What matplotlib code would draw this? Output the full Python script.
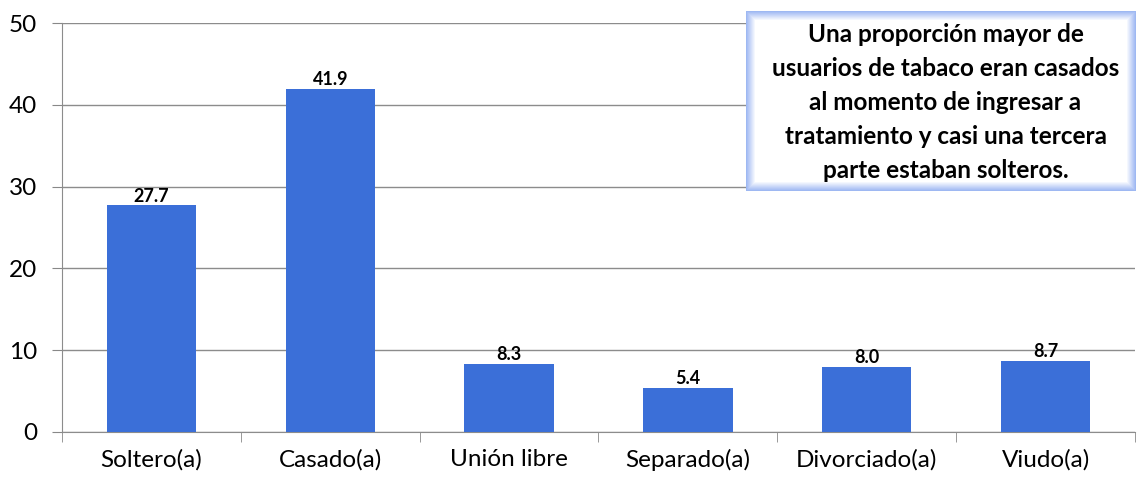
import numpy as np
import matplotlib.pyplot as plt
from matplotlib.patches import Rectangle

categorias = ['Soltero(a)', 'Casado(a)', 'Unión libre', 'Separado(a)', 'Divorciado(a)', 'Viudo(a)']
valores = [27.7, 41.9, 8.3, 5.4, 8.0, 8.7]
nota = ("Una proporción mayor de\nusuarios de tabaco eran casados\nal momento de ingresar a\n"
        "tratamiento y casi una tercera\nparte estaban solteros.")

plt.rcParams['font.family'] = ['Lato', 'DejaVu Sans']

fig = plt.figure(figsize=(11.39, 4.79), dpi=100)
ax = fig.add_axes([62/1139, 47/479, 1073/1139, 409/479])

x = np.arange(len(categorias))
ax.bar(x, valores, width=0.5, color='#3b6fd8', zorder=3)
for xi, v in zip(x, valores):
    ax.text(xi, v + 0.1, f'{v:.1f}', ha='center', va='bottom', fontsize=13, fontweight='bold')

ax.set_xlim(-0.5, len(categorias) - 0.5)
ax.set_ylim(0, 50)
ax.set_yticks(range(0, 51, 10))
ax.set_xticks(x)
ax.set_xticklabels(categorias, fontsize=17.5)
ax.set_xticks(np.arange(-0.5, len(categorias)), minor=True)
ax.tick_params(axis='x', which='major', length=0, pad=12)
ax.tick_params(axis='x', which='minor', length=7, color='#888888')
ax.tick_params(axis='y', length=7, color='#888888', labelsize=17.5, pad=11)
ax.grid(axis='y', color='#8c8c8c', linewidth=1, zorder=0)
for s in ['top', 'right']:
    ax.spines[s].set_visible(False)
for s in ['left', 'bottom']:
    ax.spines[s].set_color('#8c8c8c')

# cuadro de texto con borde azul difuminado
x0, y0, w, h = 746/1139, (479-191)/479, 390/1139, 180/479
n = 10
for i in range(n):
    t = i / (n - 1)
    c = (0.62 + 0.38*t, 0.72 + 0.28*t, 0.95 + 0.05*t)
    dx = i * 1.0 / 1139
    dy = i * 1.0 / 479
    fig.patches.append(Rectangle((x0 + dx, y0 + dy), w - 2*dx, h - 2*dy,
                                 transform=fig.transFigure, facecolor=c, edgecolor='none', zorder=5))
fig.text(x0 + w/2 + 0.004, y0 + h/2 - 0.004, nota, ha='center', va='center', fontsize=17.5,
         fontweight='bold', linespacing=1.58, zorder=6)

fig.savefig('out.png', dpi=100)
